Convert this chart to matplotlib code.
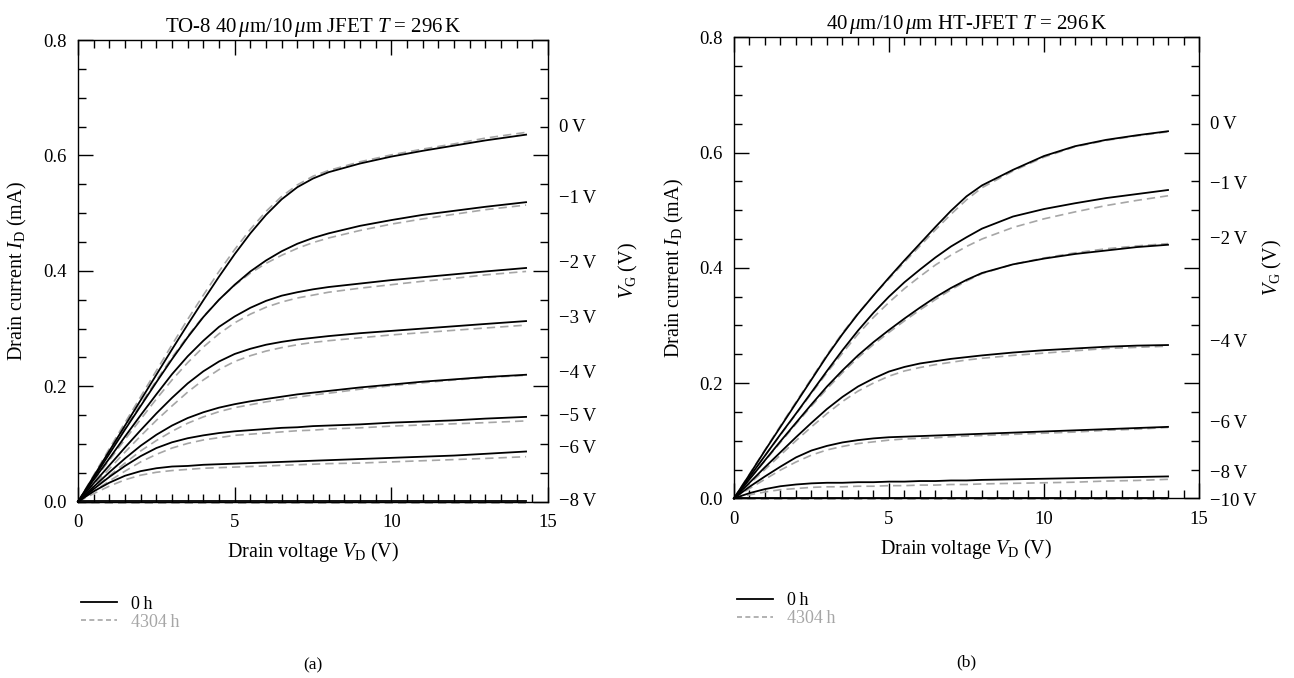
import numpy as np
import matplotlib
matplotlib.use("Agg")
import matplotlib.pyplot as plt
from matplotlib.ticker import MultipleLocator

plt.rcParams['font.family'] = ['Liberation Serif', 'DejaVu Serif']
plt.rcParams['mathtext.fontset'] = 'custom'
plt.rcParams['mathtext.rm'] = 'Liberation Serif'
plt.rcParams['mathtext.it'] = 'Liberation Serif:italic'

# ---- panel (a): TO-8 JFET ----
vd_a = [0, 0.5, 1, 1.5, 2, 2.5, 3, 3.5, 4, 4.5, 5, 5.5, 6, 6.5, 7, 7.5, 8, 9, 10, 11, 12, 13, 14.3]
vg_a = ['0\u2009V', '−1\u2009V', '−2\u2009V', '−3\u2009V', '−4\u2009V', '−5\u2009V', '−6\u2009V', '−8\u2009V']
label_y_a = [0.649, 0.525, 0.412, 0.317, 0.223, 0.148, 0.092, 0.0]

id_a_0h = [
    [0, 0.044, 0.088, 0.132, 0.176, 0.220, 0.264, 0.307, 0.349, 0.390, 0.429, 0.465, 0.497, 0.524, 0.545, 0.560, 0.571, 0.586, 0.598, 0.608, 0.617, 0.626, 0.636],
    [0, 0.041, 0.083, 0.125, 0.166, 0.207, 0.247, 0.285, 0.320, 0.350, 0.376, 0.399, 0.418, 0.434, 0.447, 0.457, 0.465, 0.478, 0.488, 0.497, 0.504, 0.511, 0.519],
    [0, 0.038, 0.075, 0.113, 0.150, 0.186, 0.221, 0.252, 0.279, 0.303, 0.321, 0.336, 0.348, 0.357, 0.363, 0.368, 0.372, 0.378, 0.384, 0.389, 0.394, 0.399, 0.405],
    [0, 0.032, 0.063, 0.094, 0.124, 0.153, 0.180, 0.205, 0.226, 0.243, 0.256, 0.265, 0.272, 0.277, 0.281, 0.284, 0.287, 0.292, 0.296, 0.300, 0.304, 0.308, 0.313],
    [0, 0.026, 0.051, 0.075, 0.097, 0.116, 0.132, 0.145, 0.155, 0.163, 0.169, 0.174, 0.178, 0.182, 0.186, 0.189, 0.192, 0.198, 0.203, 0.208, 0.212, 0.216, 0.220],
    [0, 0.022, 0.043, 0.062, 0.079, 0.093, 0.103, 0.110, 0.115, 0.119, 0.122, 0.124, 0.126, 0.128, 0.129, 0.131, 0.132, 0.134, 0.137, 0.139, 0.141, 0.144, 0.147],
    [0, 0.018, 0.033, 0.045, 0.053, 0.058, 0.061, 0.062, 0.064, 0.065, 0.066, 0.067, 0.068, 0.069, 0.070, 0.071, 0.072, 0.074, 0.076, 0.078, 0.080, 0.083, 0.087],
    [0.001] * 23,
]
id_a_4304h = [
    [0, 0.046, 0.092, 0.137, 0.182, 0.227, 0.272, 0.316, 0.358, 0.399, 0.437, 0.472, 0.503, 0.529, 0.549, 0.564, 0.574, 0.589, 0.601, 0.611, 0.620, 0.630, 0.640],
    [0, 0.042, 0.085, 0.127, 0.169, 0.210, 0.250, 0.287, 0.321, 0.350, 0.375, 0.396, 0.413, 0.427, 0.439, 0.449, 0.457, 0.470, 0.481, 0.490, 0.498, 0.506, 0.514],
    [0, 0.036, 0.072, 0.108, 0.143, 0.178, 0.211, 0.241, 0.268, 0.291, 0.310, 0.325, 0.337, 0.346, 0.353, 0.358, 0.363, 0.370, 0.376, 0.382, 0.387, 0.393, 0.399],
    [0, 0.029, 0.057, 0.086, 0.114, 0.141, 0.166, 0.190, 0.211, 0.229, 0.243, 0.253, 0.261, 0.267, 0.272, 0.276, 0.279, 0.284, 0.289, 0.293, 0.297, 0.301, 0.306],
    [0, 0.023, 0.045, 0.067, 0.088, 0.106, 0.122, 0.136, 0.147, 0.156, 0.163, 0.168, 0.173, 0.177, 0.181, 0.185, 0.188, 0.195, 0.201, 0.206, 0.211, 0.215, 0.219],
    [0, 0.018, 0.036, 0.053, 0.069, 0.082, 0.093, 0.101, 0.107, 0.111, 0.115, 0.117, 0.119, 0.121, 0.123, 0.124, 0.126, 0.128, 0.131, 0.133, 0.135, 0.137, 0.140],
    [0, 0.014, 0.027, 0.038, 0.046, 0.051, 0.054, 0.056, 0.058, 0.059, 0.060, 0.061, 0.062, 0.063, 0.064, 0.065, 0.066, 0.067, 0.069, 0.071, 0.073, 0.075, 0.078],
    [-0.002] * 23,
]

# ---- panel (b): HT-JFET ----
vd_b = [0, 0.5, 1, 1.5, 2, 2.5, 3, 3.5, 4, 4.5, 5, 5.5, 6, 6.5, 7, 7.5, 8, 9, 10, 11, 12, 13, 14.0]
vg_b = ['0\u2009V', '−1\u2009V', '−2\u2009V', '−4\u2009V', '−6\u2009V', '−8\u2009V', '−10\u2009V']
label_y_b = [0.649, 0.544, 0.449, 0.270, 0.130, 0.043, -0.006]

id_b_0h = [
    [0, 0.041, 0.083, 0.124, 0.165, 0.206, 0.247, 0.285, 0.320, 0.352, 0.383, 0.413, 0.442, 0.471, 0.499, 0.524, 0.543, 0.570, 0.594, 0.611, 0.622, 0.630, 0.637],
    [0, 0.037, 0.074, 0.111, 0.147, 0.184, 0.221, 0.257, 0.291, 0.322, 0.350, 0.375, 0.397, 0.418, 0.437, 0.453, 0.468, 0.489, 0.502, 0.512, 0.521, 0.528, 0.535],
    [0, 0.033, 0.066, 0.099, 0.131, 0.163, 0.194, 0.222, 0.248, 0.271, 0.292, 0.312, 0.331, 0.349, 0.365, 0.379, 0.391, 0.406, 0.416, 0.424, 0.430, 0.436, 0.440],
    [0, 0.027, 0.054, 0.080, 0.106, 0.131, 0.155, 0.176, 0.194, 0.208, 0.220, 0.228, 0.234, 0.238, 0.242, 0.245, 0.248, 0.253, 0.257, 0.260, 0.263, 0.265, 0.266],
    [0, 0.020, 0.038, 0.055, 0.071, 0.083, 0.091, 0.097, 0.101, 0.104, 0.106, 0.107, 0.108, 0.109, 0.110, 0.111, 0.112, 0.114, 0.116, 0.118, 0.120, 0.122, 0.124],
    [0, 0.009, 0.016, 0.021, 0.024, 0.026, 0.027, 0.027, 0.028, 0.028, 0.029, 0.029, 0.030, 0.030, 0.031, 0.031, 0.032, 0.033, 0.034, 0.035, 0.036, 0.037, 0.038],
    [0.001] * 23,
]
id_b_4304h = [
    [0, 0.042, 0.084, 0.126, 0.167, 0.208, 0.249, 0.287, 0.321, 0.352, 0.381, 0.410, 0.438, 0.466, 0.493, 0.518, 0.539, 0.568, 0.592, 0.610, 0.621, 0.629, 0.636],
    [0, 0.037, 0.074, 0.110, 0.146, 0.182, 0.218, 0.252, 0.285, 0.314, 0.340, 0.364, 0.385, 0.405, 0.422, 0.437, 0.450, 0.470, 0.485, 0.497, 0.508, 0.517, 0.525],
    [0, 0.033, 0.065, 0.097, 0.129, 0.160, 0.190, 0.218, 0.244, 0.267, 0.288, 0.308, 0.327, 0.345, 0.362, 0.377, 0.390, 0.406, 0.417, 0.426, 0.433, 0.438, 0.442],
    [0, 0.025, 0.050, 0.075, 0.100, 0.124, 0.147, 0.168, 0.186, 0.200, 0.212, 0.221, 0.227, 0.232, 0.236, 0.240, 0.243, 0.248, 0.252, 0.256, 0.260, 0.262, 0.264],
    [0, 0.017, 0.033, 0.049, 0.063, 0.075, 0.084, 0.090, 0.095, 0.098, 0.101, 0.103, 0.104, 0.105, 0.107, 0.108, 0.109, 0.111, 0.113, 0.115, 0.118, 0.120, 0.123],
    [0, 0.006, 0.011, 0.015, 0.017, 0.019, 0.020, 0.020, 0.021, 0.021, 0.022, 0.022, 0.023, 0.023, 0.024, 0.024, 0.025, 0.026, 0.027, 0.028, 0.030, 0.031, 0.033],
    [-0.002] * 23,
]

titles = [r'TO-8 40$\,\mu$m/10$\,\mu$m JFET $T$ = 296$\,$K',
          r'40$\,\mu$m/10$\,\mu$m HT-JFET $T$ = 296$\,$K']

gray = '#a6a6a6'
fig = plt.figure(figsize=(12.94, 6.78), dpi=100)
ax_a = fig.add_axes([0.0603, 0.260, 0.3632, 0.681])
ax_b = fig.add_axes([0.5672, 0.265, 0.3594, 0.680])

panels = [
    (ax_a, vd_a, id_a_0h, id_a_4304h, vg_a, label_y_a, '(a)', 1.172),
    (ax_b, vd_b, id_b_0h, id_b_4304h, vg_b, label_y_b, '(b)', 1.157),
]

for i, (ax, vd, s0, s1, vg, ly, tag, vgx) in enumerate(panels):
    for c0, c1 in zip(s0, s1):
        ax.plot(vd, c1, color=gray, lw=1.2, dashes=(5, 3), clip_on=False, zorder=2)
        ax.plot(vd, c0, color='black', lw=1.3, clip_on=False, zorder=3)
    ax.set_xlim(0, 15)
    ax.set_ylim(0, 0.8)
    ax.xaxis.set_major_locator(MultipleLocator(5))
    ax.xaxis.set_minor_locator(MultipleLocator(0.5))
    ax.yaxis.set_major_locator(MultipleLocator(0.2))
    ax.yaxis.set_minor_locator(MultipleLocator(0.05))
    ax.yaxis.set_major_formatter(lambda v, p: f'{v:.1f}')
    ax.tick_params(which='both', direction='in', top=True, right=True, width=1.0,
                   labelsize=13.5)
    ax.tick_params(which='major', length=11)
    ax.tick_params(which='minor', length=5.5)
    ax.tick_params(axis='y', pad=8)
    ax.tick_params(axis='x', pad=9)
    for sp in ax.spines.values():
        sp.set_linewidth(1.0)
    ax.set_title(titles[i], fontsize=15, pad=6)
    ax.set_xlabel(r'Drain voltage $V_{\mathrm{D}}$ (V)', fontsize=14.5)
    ax.set_ylabel(r'Drain current $I_{\mathrm{D}}$ (mA)', fontsize=14.5)
    ax.xaxis.set_label_coords(0.5, -0.109)
    ax.xaxis.label.set_va('center')
    ax.yaxis.set_label_coords(-0.128, 0.5)
    ax.yaxis.label.set_va('center')

    for lab, y in zip(vg, ly):
        ax.text(15.35, y, lab, ha='left', va='center', fontsize=13.5, clip_on=False)
    ax.text(vgx, 0.5, r'$V_{\mathrm{G}}$ (V)', transform=ax.transAxes,
            rotation=90, ha='center', va='center', fontsize=14.5)

    h0, = ax.plot([], [], color='black', lw=1.3)
    h1, = ax.plot([], [], color=gray, lw=1.2, dashes=(3, 2))
    leg = ax.legend([h0, h1], ['0\u2009h', '4304\u2009h'], loc='upper left',
                    bbox_to_anchor=(-0.01, -0.188), frameon=False,
                    handlelength=2.0, handletextpad=0.8, labelspacing=0.05,
                    fontsize=13, borderaxespad=0)
    leg.get_texts()[1].set_color(gray)
    ax.text(0.5, -0.355, tag, transform=ax.transAxes, ha='center', va='center',
            fontsize=12.5)

fig.savefig('out.png', dpi=100)
